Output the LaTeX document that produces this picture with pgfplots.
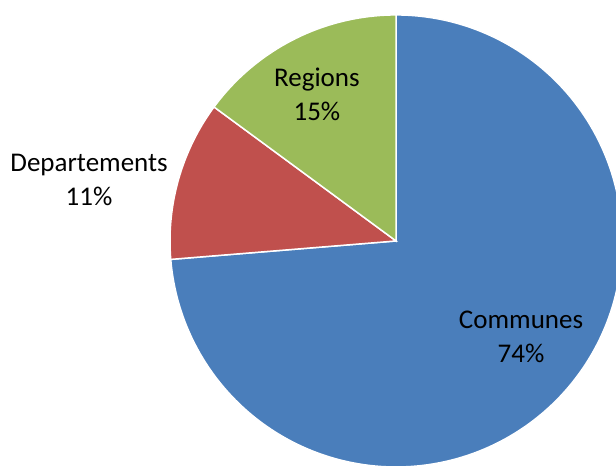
\documentclass[border=0pt]{standalone}
\usepackage{pgfplots}
\pgfplotsset{compat=1.18}
\usepackage{pgfplotstable}
\usepackage{fontspec}
\setmainfont{Carlito}
\definecolor{cblue}{HTML}{4A7EBB}
\definecolor{cred}{HTML}{C0504D}
\definecolor{cgreen}{HTML}{9BBB59}
\pgfplotstableread{
label value
Communes 73.7
Departements 11.4
Regions 14.9
}\piedata
\begin{document}
\begin{tikzpicture}
\pgfplotstablegetelem{0}{value}\of\piedata \let\vA\pgfplotsretval
\pgfplotstablegetelem{1}{value}\of\piedata \let\vB\pgfplotsretval
\pgfplotstablegetelem{2}{value}\of\piedata \let\vC\pgfplotsretval
\pgfmathsetmacro{\aA}{90-3.6*\vA}
\pgfmathsetmacro{\aB}{\aA-3.6*\vB}
\pgfmathsetmacro{\aC}{\aB-3.6*\vC}
\begin{axis}[
  width=616pt, height=467pt, scale only axis,
  hide axis,
  xmin=-1.752, xmax=0.973, ymin=-1.000, ymax=1.066,
  clip=true,
]
\path (rel axis cs:0,0) rectangle (rel axis cs:1,1);
\addplot[fill=cblue, draw=white, line width=1.5pt, domain=\aA:90, samples=180, variable=\t]
  ({cos(t)},{sin(t)}) -- (axis cs:0,0) -- cycle;
\addplot[fill=cred, draw=white, line width=1.5pt, domain=\aB:\aA, samples=40, variable=\t]
  ({cos(t)},{sin(t)}) -- (axis cs:0,0) -- cycle;
\addplot[fill=cgreen, draw=white, line width=1.5pt, domain=\aC:\aB, samples=40, variable=\t]
  ({cos(t)},{sin(t)}) -- (axis cs:0,0) -- cycle;
\node[align=center, font=\fontsize{27}{34}\selectfont] at (axis cs:-0.35,0.650) {Regions\\15\%};
\node[align=center, font=\fontsize{27}{34}\selectfont] at (axis cs:-1.358,0.270) {Departements\\11\%};
\node[align=center, font=\fontsize{27}{34}\selectfont] at (axis cs:0.553,-0.425) {Communes\\74\%};
\end{axis}
\end{tikzpicture}
\end{document}
